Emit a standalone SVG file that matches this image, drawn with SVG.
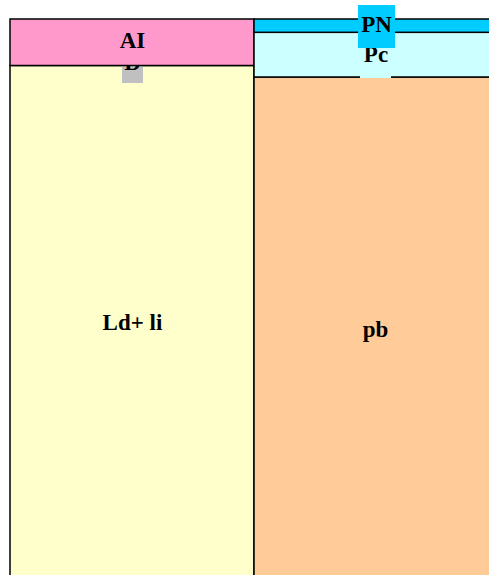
<svg xmlns="http://www.w3.org/2000/svg" width="489" height="575" viewBox="0 0 489 575">
<style>
.box{stroke:#000;stroke-width:1.5}
.t{font-family:"Liberation Serif","Times New Roman",serif;font-weight:bold;font-size:23px;fill:#000;text-anchor:middle}
</style>
<rect width="489" height="575" fill="#fff"/>
<g id="Ld_li">
<rect class="box" x="10" y="65.5" width="244" height="520" fill="#ffffcc"/>
<text class="t" x="132.5" y="330">Ld+ li</text>
</g>
<g id="pb">
<rect class="box" x="254" y="77" width="245" height="510" fill="#ffcc99"/>
<text class="t" x="375.5" y="337">pb</text>
</g>
<g id="D">
<rect x="122" y="52" width="21" height="31" fill="#c0c0c0"/>
<text class="t" x="132.5" y="70">D</text>
</g>
<g id="AI">
<rect class="box" x="10" y="19" width="244" height="46.5" fill="#ff99cc"/>
<text class="t" x="132.5" y="48">AI</text>
</g>
<g id="Pc">
<rect class="box" x="254" y="32.3" width="245" height="44.7" fill="#ccffff"/>
<rect x="360" y="44" width="31" height="34" fill="#ccffff"/>
<text class="t" x="376" y="62">Pc</text>
</g>
<g id="PN">
<rect class="box" x="254" y="19" width="245" height="13.3" fill="#00ccff"/>
<rect x="358" y="5" width="37" height="43" fill="#00ccff"/>
<text class="t" x="376.5" y="32">PN</text>
</g>
<g id="connectors"/>
</svg>
